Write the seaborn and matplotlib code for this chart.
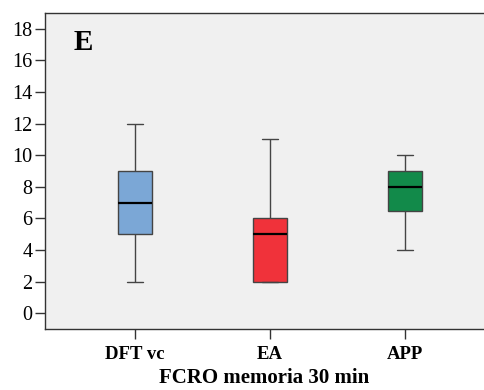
import matplotlib
matplotlib.use("Agg")
import matplotlib.pyplot as plt
import seaborn as sns
import pandas as pd

groups = ["DFT vc", "EA", "APP"]
# five values per group reproducing the drawn box statistics (min, Q1, median, Q3, max)
dft_vals = [2, 5, 7, 9, 12]
ea_vals = [2, 2, 5, 6, 11]
app_vals = [4, 6.5, 8, 9, 10]
colors = ["#7BA7D6", "#F0323A", "#128A4A"]
yticks = [0, 2, 4, 6, 8, 10, 12, 14, 16, 18]

df = pd.DataFrame({
    "group": [groups[0]] * len(dft_vals) + [groups[1]] * len(ea_vals) + [groups[2]] * len(app_vals),
    "value": dft_vals + ea_vals + app_vals,
})

sns.set_style("white")
plt.rcParams["font.family"] = ["Liberation Serif", "DejaVu Serif"]
plt.rcParams["text.color"] = "black"
plt.rcParams["xtick.color"] = "#333333"
plt.rcParams["ytick.color"] = "#333333"
plt.rcParams["xtick.labelcolor"] = "black"
plt.rcParams["ytick.labelcolor"] = "black"
plt.rcParams["axes.labelcolor"] = "black"

fig = plt.figure(figsize=(4.84, 3.9), dpi=100)
ax = fig.add_axes([45 / 484, 1 - 329 / 390, 1 - 45 / 484, (329 - 13) / 390])
ax.set_facecolor("#F0F0F0")

sns.boxplot(data=df, x="group", y="value", hue="group", order=groups, hue_order=groups,
            palette=dict(zip(groups, colors)), width=0.25, linecolor="#444444", linewidth=1.0,
            saturation=1, legend=False, ax=ax,
            medianprops=dict(color="#000000", linewidth=1.6))

ax.set_xlim(-0.667, 2.585)
ax.set_ylim(-1, 19)
ax.set_yticks(yticks)
ax.set_yticklabels([str(t) for t in yticks], fontsize=14.5)
ax.set_xticks(range(len(groups)))
ax.set_xticklabels(groups, fontsize=13.5, fontweight="bold")
ax.tick_params(axis="both", direction="out", length=7, width=1, pad=2,
               bottom=True, left=True, top=False, right=False)
ax.tick_params(axis="x", pad=5)
ax.set_xlabel("FCRO memoria 30 min", fontsize=15, fontweight="bold", labelpad=4)
ax.set_ylabel("")

for side in ["left", "top", "bottom"]:
    ax.spines[side].set_visible(True)
    ax.spines[side].set_color("#333333")
    ax.spines[side].set_linewidth(1.0)
ax.spines["right"].set_visible(False)

ax.text(-0.38, 17.15, "E", fontsize=21, fontweight="bold", ha="center", va="center")

fig.savefig("out.png", dpi=100)
